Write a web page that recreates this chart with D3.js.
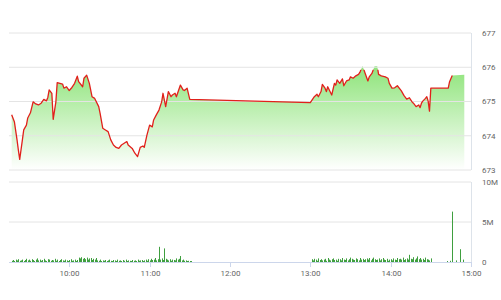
<!DOCTYPE html>
<html>
<head>
<meta charset="utf-8">
<script src="https://cdn.jsdelivr.net/npm/d3@7"></script>
<style>
  body { margin: 0; background: #fff; }
  text { font-family: Roboto, Arial, sans-serif; font-size: 8px; fill: #666; }
</style>
</head>
<body>
<script>
// panel geometry
const width = 501, height = 300;
const left = 9, right = 471;
const priceTop = 33, priceBottom = 170;
const volTop = 182, volBottom = 262;

// axis ticks
const priceTicks = [673, 674, 675, 676, 677];
const volTicks = [0, 5, 10];
const volTickLabels = ['0', '5M', '10M'];
const timeTicks = ['10:00', '11:00', '12:00', '13:00', '14:00', '15:00'];

// intraday price [time, value]
const priceSeries = [
    ['09:17', 674.61], ['09:19', 674.41], ['09:21', 673.88], ['09:22', 673.58], ['09:23', 673.31],
    ['09:25', 673.88], ['09:26', 674.17], ['09:28', 674.31], ['09:29', 674.52], ['09:31', 674.67],
    ['09:33', 674.99], ['09:35', 674.93], ['09:37', 674.90], ['09:39', 674.95], ['09:41', 675.06],
    ['09:43', 675.02], ['09:44', 675.12], ['09:45', 675.34], ['09:47', 675.24], ['09:48', 674.48],
    ['09:50', 674.99], ['09:51', 675.55], ['09:53', 675.53], ['09:55', 675.51], ['09:56', 675.39],
    ['09:58', 675.43], ['10:00', 675.32], ['10:02', 675.41], ['10:04', 675.53], ['10:06', 675.74],
    ['10:07', 675.58], ['10:10', 675.43], ['10:11', 675.68], ['10:13', 675.77], ['10:15', 675.53],
    ['10:17', 675.14], ['10:19', 675.09], ['10:22', 674.85], ['10:23', 674.66], ['10:25', 674.22],
    ['10:27', 674.17], ['10:29', 674.12], ['10:31', 673.88], ['10:33', 673.73], ['10:35', 673.66],
    ['10:37', 673.63], ['10:39', 673.73], ['10:41', 673.78], ['10:43', 673.83], ['10:44', 673.73],
    ['10:47', 673.63], ['10:49', 673.49], ['10:51', 673.39], ['10:53', 673.66], ['10:55', 673.70],
    ['10:56', 673.66], ['10:58', 674.02], ['11:00', 674.31], ['11:02', 674.26], ['11:03', 674.46],
    ['11:05', 674.61], ['11:07', 674.75], ['11:09', 674.99], ['11:10', 675.24], ['11:12', 674.85],
    ['11:14', 675.29], ['11:16', 675.14], ['11:17', 675.19], ['11:19', 675.24], ['11:20', 675.14],
    ['11:23', 675.48], ['11:25', 675.34], ['11:26', 675.32], ['11:28', 675.39], ['11:30', 675.06],
    ['13:00', 674.97], ['13:03', 675.14], ['13:05', 675.21], ['13:06', 675.14], ['13:08', 675.29],
    ['13:09', 675.50], ['13:11', 675.39], ['13:12', 675.29], ['13:13', 675.43], ['13:15', 675.27],
    ['13:16', 675.19], ['13:18', 675.53], ['13:19', 675.48], ['13:20', 675.63], ['13:22', 675.53],
    ['13:24', 675.66], ['13:25', 675.46], ['13:27', 675.60], ['13:29', 675.63], ['13:30', 675.72],
    ['13:32', 675.68], ['13:34', 675.75], ['13:36', 675.79], ['13:37', 675.85], ['13:39', 676.04],
    ['13:41', 675.82], ['13:43', 675.60], ['13:44', 675.72], ['13:46', 675.82], ['13:48', 676.03],
    ['13:50', 676.03], ['13:51', 675.79], ['13:53', 675.75], ['13:56', 675.72], ['13:58', 675.68],
    ['13:59', 675.53], ['14:01', 675.39], ['14:03', 675.40], ['14:05', 675.46], ['14:07', 675.36],
    ['14:08', 675.31], ['14:10', 675.17], ['14:12', 675.07], ['14:14', 675.11], ['14:16', 674.99],
    ['14:17', 674.95], ['14:19', 674.85], ['14:21', 674.90], ['14:22', 674.82], ['14:23', 674.95],
    ['14:24', 675.01], ['14:26', 675.09], ['14:27', 675.14], ['14:28', 675.01], ['14:29', 674.72],
    ['14:30', 675.39], ['14:32', 675.39], ['14:43', 675.39], ['14:44', 675.58], ['14:46', 675.76],
    ['14:55', 675.78]
];
const lineEnd = '14:46';
const lineCap = 675.93;

// volume (millions), one bar per minute from the start time
const volAMStart = '09:17';
const volAM = [
    0.15, 0.25, 0.1, 0.3, 0.2, 0.35, 0.15, 0.2, 0.3, 0.1,
    0.25, 0.4, 0.2, 0.3, 0.15, 0.35, 0.25, 0.1, 0.3, 0.45,
    0.2, 0.3, 0.15, 0.25, 0.4, 0.2, 0.1, 0.35, 0.3, 0.15,
    0.25, 0.2, 0.4, 0.15, 0.3, 0.1, 0.25, 0.35, 0.2, 0.15,
    0.3, 0.2, 0.1, 0.25, 0.35, 0.15, 0.2, 0.3, 0.1, 0.25,
    0.55, 0.45, 0.6, 0.4, 0.5, 0.35, 0.55, 0.3, 0.45, 0.5,
    0.25, 0.4, 0.3, 0.5, 0.2, 0.15, 0.3, 0.1, 0.2, 0.15,
    0.25, 0.1, 0.2, 0.3, 0.15, 0.1, 0.25, 0.2, 0.1, 0.3,
    0.15, 0.2, 0.1, 0.25, 0.15, 0.3, 0.1, 0.2, 0.15, 0.1,
    0.25, 0.15, 0.2, 0.1, 0.3, 0.15, 0.2, 0.25, 0.1, 0.2,
    0.3, 0.15, 0.35, 0.2, 0.4, 0.25, 0.3, 0.5, 0.2, 0.35,
    1.9, 0.3, 0.45, 0.25, 1.7, 0.4, 0.3, 0.2, 0.35, 0.15,
    0.3, 0.25, 0.2, 0.45, 0.3, 0.4, 0.75, 0.2, 0.3, 0.15,
    0.2, 0.1, 0.15, 0.1, 0.05
];
const volPMStart = '13:01';
const volPM = [
    0.35, 0.2, 0.4, 0.3, 0.15, 0.45, 0.25, 0.35, 0.2, 0.3,
    0.4, 0.15, 0.5, 0.3, 0.2, 0.35, 0.45, 0.25, 0.3, 0.15,
    0.4, 0.35, 0.2, 0.5, 0.3, 0.25, 0.45, 0.2, 0.35, 0.55,
    0.4, 0.3, 0.25, 0.45, 0.35, 0.2, 0.5, 0.3, 0.4, 0.25,
    0.35, 0.45, 0.3, 0.5, 0.2, 0.4, 0.55, 0.35, 0.25, 0.3,
    0.45, 0.2, 0.35, 0.5, 0.3, 0.25, 0.4, 0.15, 0.3, 0.35,
    0.2, 0.45, 0.3, 0.25, 0.5, 0.35, 0.4, 0.3, 0.55, 0.25,
    0.35, 0.45, 0.3, 0.9, 0.4, 0.35, 0.6, 0.3, 0.45, 0.7,
    0.35, 0.5, 0.3, 0.4, 0.25, 0.55, 0.35, 0.3, 0.2, 0.45
];
const volATC = [['14:42', 0.1], ['14:44', 0.15], ['14:46', 6.3], ['14:49', 0.2], ['14:52', 1.6], ['14:54', 0.3]];

const parseTime = s => {
    const [h, m] = s.split(':').map(Number);
    return new Date(2020, 0, 2, h, m);
};

const prices = priceSeries.map(([t, p]) => ({ t: parseTime(t), p }));
const volumes = [
    ...volAM.map((v, i) => ({ t: d3.timeMinute.offset(parseTime(volAMStart), i), v })),
    ...volPM.map((v, i) => ({ t: d3.timeMinute.offset(parseTime(volPMStart), i), v })),
    ...volATC.map(([t, v]) => ({ t: parseTime(t), v }))
];

const x = d3.scaleTime().domain([parseTime('09:15'), parseTime('15:00')]).range([left, right]);
const y = d3.scaleLinear().domain([673, 677]).range([priceBottom, priceTop]);
const yVol = d3.scaleLinear().domain([0, 10]).range([volBottom, volTop]);

const svg = d3.select('body').append('svg')
    .attr('width', width)
    .attr('height', height);

const defs = svg.append('defs');
const grad = defs.append('linearGradient')
    .attr('id', 'fillGrad')
    .attr('gradientUnits', 'userSpaceOnUse')
    .attr('x1', 0).attr('x2', 0)
    .attr('y1', y(676)).attr('y2', y(673));
grad.append('stop').attr('offset', 0).attr('stop-color', '#8fe47b');
grad.append('stop').attr('offset', 1).attr('stop-color', '#ffffff');

defs.append('clipPath').attr('id', 'lineClip')
    .append('rect')
    .attr('x', 0).attr('width', width)
    .attr('y', y(lineCap)).attr('height', priceBottom - y(lineCap));

// price area
const area = d3.area()
    .x(d => x(d.t))
    .y0(priceBottom)
    .y1(d => y(d.p));

svg.append('path')
    .datum(prices)
    .attr('d', area)
    .attr('fill', 'url(#fillGrad)');

// price grid, drawn over the fill
svg.append('g').selectAll('line')
    .data(priceTicks)
    .join('line')
    .attr('x1', left).attr('x2', right)
    .attr('y1', d => y(d)).attr('y2', d => y(d))
    .attr('stroke', '#e4e4e4')
    .attr('stroke-width', 1);

svg.append('line')
    .attr('x1', right + 0.5).attr('x2', right + 0.5)
    .attr('y1', priceTop).attr('y2', priceBottom)
    .attr('stroke', '#dde3ea');

// price line
const endT = parseTime(lineEnd);
const line = d3.line()
    .x(d => x(d.t))
    .y(d => y(d.p));

svg.append('path')
    .datum(prices.filter(d => d.t <= endT))
    .attr('d', line)
    .attr('fill', 'none')
    .attr('stroke', '#e1201b')
    .attr('stroke-width', 1.3)
    .attr('stroke-linejoin', 'round')
    .attr('clip-path', 'url(#lineClip)');

svg.append('g').selectAll('text')
    .data(priceTicks)
    .join('text')
    .attr('x', 482)
    .attr('y', d => y(d))
    .attr('dy', '0.35em')
    .text(d => d);

// volume grid
svg.append('g').selectAll('line')
    .data(volTicks.slice(1))
    .join('line')
    .attr('x1', left).attr('x2', right)
    .attr('y1', d => yVol(d)).attr('y2', d => yVol(d))
    .attr('stroke', '#e4e4e4');

svg.append('line')
    .attr('x1', right + 0.5).attr('x2', right + 0.5)
    .attr('y1', volTop).attr('y2', volBottom)
    .attr('stroke', '#dde3ea');

// volume bars
svg.append('g').selectAll('rect')
    .data(volumes)
    .join('rect')
    .attr('x', d => Math.round(x(d.t)))
    .attr('width', 1)
    .attr('y', d => Math.min(yVol(d.v), volBottom - 1))
    .attr('height', d => Math.max(volBottom - yVol(d.v), 1))
    .attr('fill', '#3f9f3f');

// time axis
svg.append('line')
    .attr('x1', left).attr('x2', right)
    .attr('y1', volBottom + 0.5).attr('y2', volBottom + 0.5)
    .attr('stroke', '#ccd6eb');

const ticks = svg.append('g').selectAll('g')
    .data(timeTicks)
    .join('g')
    .attr('transform', d => `translate(${Math.round(x(parseTime(d))) + 0.5},0)`);
ticks.append('line')
    .attr('y1', volBottom).attr('y2', volBottom + 5)
    .attr('stroke', '#ccd6eb');
ticks.append('text')
    .attr('y', 273)
    .attr('dy', '0.35em')
    .attr('text-anchor', 'middle')
    .text(d => d);

svg.append('g').selectAll('text')
    .data(volTicks)
    .join('text')
    .attr('x', 482)
    .attr('y', d => yVol(d))
    .attr('dy', '0.35em')
    .text((d, i) => volTickLabels[i]);
</script>
</body>
</html>
